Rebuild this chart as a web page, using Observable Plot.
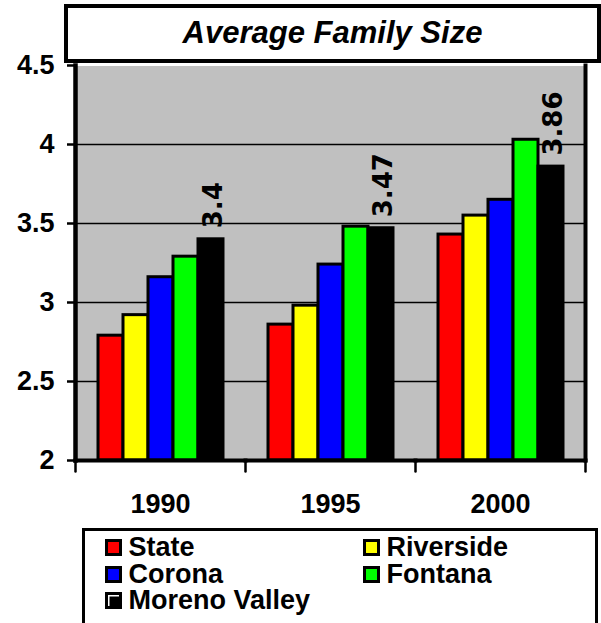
<!DOCTYPE html>
<html>
<head>
<meta charset="utf-8">
<script src="https://cdn.jsdelivr.net/npm/d3@7"></script>
<script src="https://cdn.jsdelivr.net/npm/@observablehq/plot@0.6"></script>
<style>
  body { margin: 0; background: #fff; }
  #chart { position: relative; width: 601px; height: 623px; overflow: hidden; font-family: "Liberation Sans", Arial, sans-serif; }
  #chart svg { display: block; }
  #title { position: absolute; left: 64px; top: 4px; width: 537px; height: 59px; box-sizing: border-box;
           border: 4px solid #000; background: #fff; z-index: 2; text-align: center;
           font-weight: bold; font-style: italic; font-size: 31px; line-height: 50px; }
  #legend { position: absolute; left: 82px; top: 528px; width: 516px; height: 120px; box-sizing: border-box;
            border: 3.5px solid #000; background: #fff; padding: 3px 0 0 19.5px;
            display: grid; grid-template-columns: 258px 1fr; grid-auto-rows: 26.5px;
            font-weight: bold; font-size: 27px; line-height: 26.5px; }
  .item { white-space: nowrap; height: 26.5px; overflow: visible; }
  .lbl { display: inline-block; height: 26.5px; line-height: 26.5px; vertical-align: baseline; }
  .sw { display: inline-block; width: 11px; height: 11px; border: 3px solid #000; vertical-align: baseline; margin-right: 7px; }
</style>
</head>
<body>
<div id="chart">
  <div id="title"></div>
  <div id="legend"></div>
</div>
<script>
// ---- data ----
const title = "Average Family Size";
const years = ["1990", "1995", "2000"];
const series = ["State", "Riverside", "Corona", "Fontana", "Moreno Valley"];
const colors = ["#ff0000", "#ffff00", "#0000ff", "#00ff00", "#000000"];
const state = [2.79, 2.86, 3.43];
const riverside = [2.92, 2.98, 3.55];
const corona = [3.16, 3.24, 3.65];
const fontana = [3.29, 3.48, 4.03];
const morenoValley = [3.40, 3.47, 3.86];
const yTicks = [2, 2.5, 3, 3.5, 4, 4.5];
const labelledSeries = "Moreno Valley";

const valuesBySeries = [state, riverside, corona, fontana, morenoValley];
const rows = series.flatMap((s, i) => years.map((y, j) => ({series: s, year: y, value: valuesBySeries[i][j]})));
const yearRows = years.map(y => ({year: y}));

const tickShape = { draw(context, l) { context.moveTo(0, 0); context.lineTo(0, -l); } };

const chart = Plot.plot({
  width: 601,
  height: 528,
  marginTop: 65,
  marginBottom: 68,
  marginLeft: 75,
  marginRight: 16,
  style: { fontFamily: "'Liberation Sans', Arial, sans-serif", color: "black", background: "white" },
  fx: { domain: years, padding: 0, label: null },
  x: { domain: series, paddingInner: 0, paddingOuter: 0.77, axis: null },
  y: { domain: [yTicks[0], yTicks[yTicks.length - 1]], label: null },
  color: { domain: series, range: colors },
  marks: [
    Plot.frame({ fill: "#c0c0c0", stroke: "none", shapeRendering: "crispEdges", insetLeft: -0.5, insetRight: -0.5 }),
    Plot.gridY(yTicks.slice(1, -1), { stroke: "black", strokeOpacity: 1, strokeWidth: 1.3 }),
    Plot.barY(rows, { fx: "year", x: "series", y1: yTicks[0], y2: "value", fill: "series", stroke: "black", strokeWidth: 3 }),
    Plot.text(rows.filter(d => d.series === labelledSeries), {
      fx: "year", x: "series", y: "value", text: d => String(d.value),
      rotate: -90, textAnchor: "start", lineAnchor: "middle", dy: -11, dx: 3,
      fontSize: 26, fontWeight: "bold", fontFamily: "DejaVu Sans", fill: "black"
    }),
    Plot.frame({ fx: years[0], anchor: "left", stroke: "black", strokeWidth: 4.5 }),
    Plot.frame({ fx: years[years.length - 1], anchor: "right", stroke: "black", strokeWidth: 4 }),
    Plot.frame({ anchor: "bottom", stroke: "black", strokeWidth: 4 }),
    Plot.vector(yearRows, { fx: "year", frameAnchor: "bottom-left", length: 11, rotate: 180, anchor: "start",
      stroke: "black", strokeWidth: 2.5, shape: tickShape }),
    Plot.vector(yearRows.slice(-1), { fx: "year", frameAnchor: "bottom-right", length: 11, rotate: 180, anchor: "start",
      stroke: "black", strokeWidth: 2.5, shape: tickShape }),
    Plot.axisY(yTicks, { tickSize: 8, tickPadding: 13, fontSize: 27, fontWeight: "bold", strokeWidth: 2.5,
      label: null, tickFormat: d => String(d) }),
    Plot.axisFx({ anchor: "bottom", tickSize: 0, tickPadding: 33, fontSize: 27, fontWeight: "bold", label: null })
  ]
});

const root = document.getElementById("chart");
root.insertBefore(chart, root.firstChild);
document.getElementById("title").textContent = title;

const legend = document.getElementById("legend");
series.forEach((s, i) => {
  const item = document.createElement("div");
  item.className = "item";
  const sw = document.createElement("span");
  sw.className = "sw";
  sw.style.background = colors[i];
  if (colors[i] === "#000000") sw.style.boxShadow = "inset 1.5px 1.5px 0 #fff";
  const lbl = document.createElement("span");
  lbl.className = "lbl";
  lbl.textContent = s;
  item.appendChild(sw);
  item.appendChild(lbl);
  legend.appendChild(item);
});
</script>
</body>
</html>
